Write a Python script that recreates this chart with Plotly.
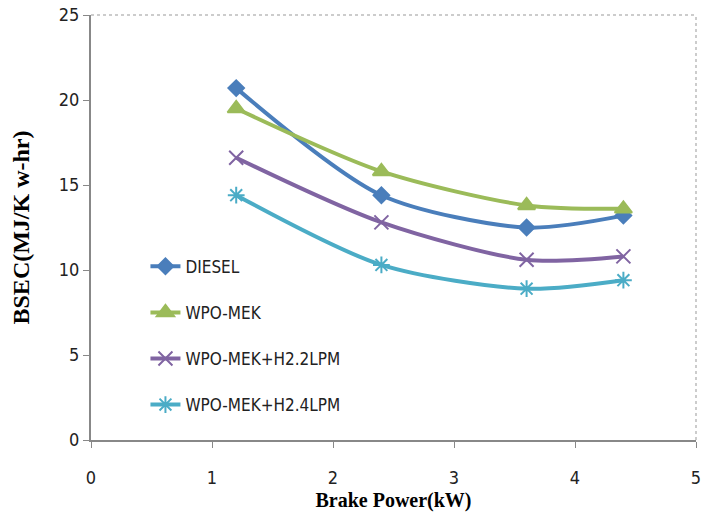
import plotly.graph_objects as go

x_power = [1.2, 2.4, 3.6, 4.4]
diesel = [20.7, 14.4, 12.5, 13.2]
wpo_mek = [19.5, 15.8, 13.8, 13.6]
wpo_h22 = [16.6, 12.8, 10.6, 10.8]
wpo_h24 = [14.4, 10.3, 8.9, 9.4]

names = ["DIESEL", "WPO-MEK", "WPO-MEK+H2.2LPM", "WPO-MEK+H2.4LPM"]
colors = ["#4a7ebb", "#9bbb59", "#8064a2", "#4bacc6"]
symbols = ["diamond", "triangle-up", "x-thin-open", "asterisk-open"]
sizes = [12, 15, 14, 14]
series = [diesel, wpo_mek, wpo_h22, wpo_h24]

fig = go.Figure()
for i, (n, c, s, sz, ys) in enumerate(zip(names, colors, symbols, sizes, series)):
    fig.add_trace(go.Scatter(
        x=x_power, y=ys, name=n, mode="lines+markers",
        line=dict(color=c, width=4, shape="spline", smoothing=0.8),
        marker=dict(symbol=s, size=sz, color=c, line=dict(color=c, width=2)),
        legendgroup=str(i),
    ))

narrow = "DejaVu Sans Condensed, Liberation Sans Narrow, Arial Narrow, sans-serif"
tickfont = dict(family=narrow, size=18, color="#222")
titlefont = dict(family="Liberation Serif, Times New Roman, serif", size=20, color="black", weight="bold")

fig.update_layout(
    width=702, height=519,
    margin=dict(l=91, r=6, t=15, b=79, autoexpand=False),
    paper_bgcolor="white", plot_bgcolor="white",
    showlegend=True,
    legend=dict(x=0.09, y=0.45, xanchor="left", yanchor="top",
                bgcolor="rgba(0,0,0,0)", tracegroupgap=21,
                font=dict(family=narrow, size=17, color="#222")),
    xaxis=dict(range=[0, 5], dtick=1, showgrid=False, zeroline=False,
               showline=True, linecolor="#888", linewidth=2,
               ticks="outside", ticklen=6, tickcolor="#888", tickwidth=1,
               tickfont=tickfont, automargin=False, ticklabelstandoff=14,
               ticklabeloverflow="allow",
               title=dict(text="Brake Power(kW)", font=titlefont, standoff=6)),
    yaxis=dict(range=[0, 25], dtick=5, showgrid=False, zeroline=False,
               showline=True, linecolor="#888", linewidth=2,
               ticks="outside", ticklen=6, tickcolor="#888", tickwidth=1,
               tickfont=tickfont, automargin=False,
               title=dict(text="BSEC(MJ/K w-hr)", font=dict(titlefont, size=24), standoff=22)),
    shapes=[
        dict(type="line", xref="paper", yref="paper", x0=0, x1=1, y0=1, y1=1,
             line=dict(color="#999", width=1, dash="dot")),
        dict(type="line", xref="paper", yref="paper", x0=1, x1=1, y0=0, y1=1,
             line=dict(color="#999", width=1, dash="dot")),
    ],
)

fig.write_html("out.html")
